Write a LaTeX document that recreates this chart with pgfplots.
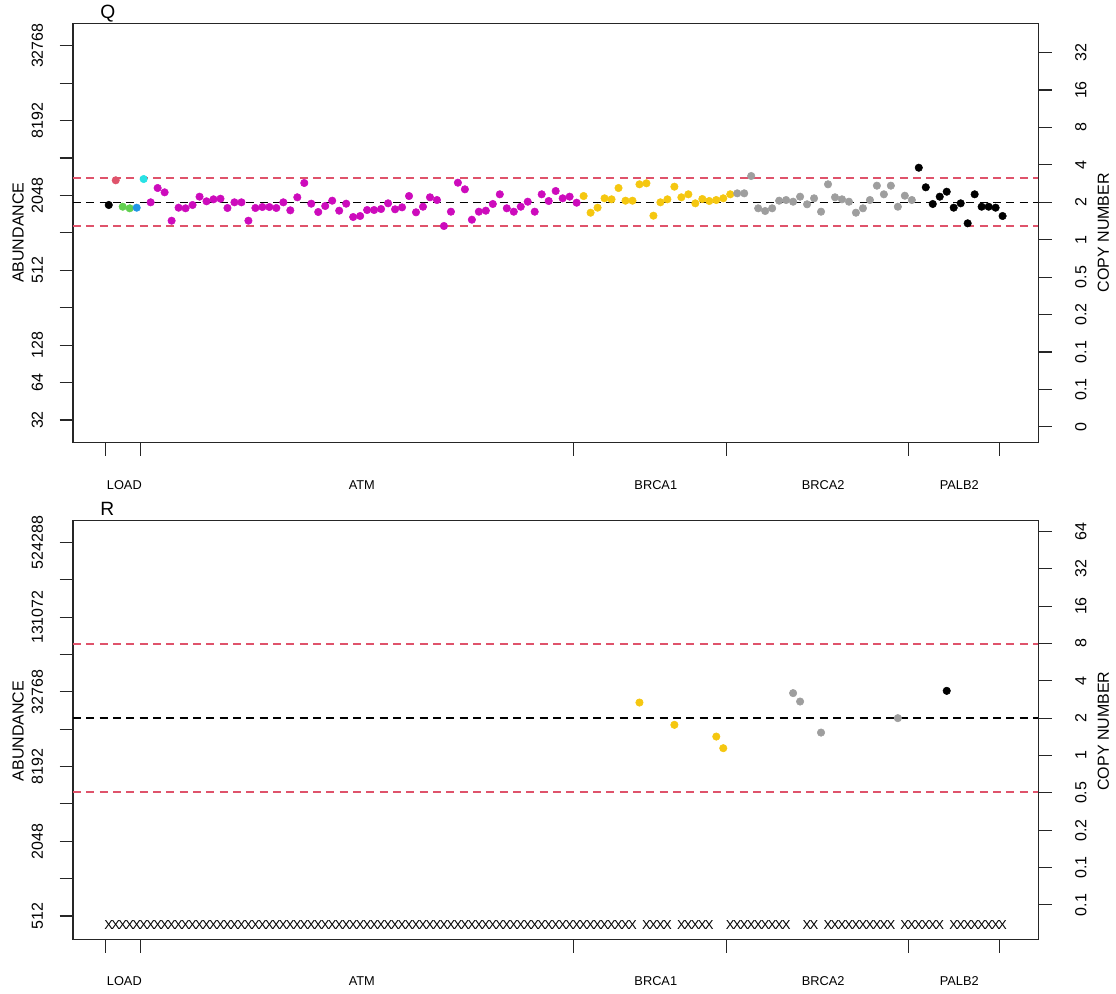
\documentclass[border=0pt]{standalone}
\usepackage{fontspec}
\setmainfont{Liberation Sans}
\usepackage{pgfplots}
\pgfplotsset{compat=1.18}

% R default palette
\definecolor{rblack}{HTML}{000000}
\definecolor{rred}{HTML}{DF536B}
\definecolor{rgreen}{HTML}{61D04F}
\definecolor{rblue}{HTML}{2297E6}
\definecolor{rcyan}{HTML}{28E2E5}
\definecolor{rmag}{HTML}{CD0BBC}
\definecolor{ryellow}{HTML}{F5C710}
\definecolor{rgray}{HTML}{9E9E9E}
\definecolor{frame}{HTML}{262626}

\newcommand{\ticksz}{\fontsize{12}{14}\selectfont}
\newcommand{\labsz}{\fontsize{12}{14}\selectfont}
\newcommand{\grpsz}{\fontsize{9.6}{11}\selectfont}
\newcommand{\mainsz}{\fontsize{14.4}{16}\selectfont}

\tikzset{grp/.style={font=\grpsz, anchor=base, inner sep=0pt, yshift=-35pt}}

\pgfplotsset{
  panel/.style={
    scale only axis, width=724pt, height=314.4pt,
    xmin=-4.12, xmax=134.12,
    axis line style={line width=0.8pt, frame},
    tick style={line width=0.8pt, frame},
    major tick length=10pt, tick align=outside,
    tick label style={font=\ticksz},
    /pgf/number format/assume math mode=true,
    clip=false,
  },
  leftax/.style={panel, xtick pos=bottom, ytick pos=left,
    xtick={0.5,5.5,67.5,89.5,115.5,128.5}, xticklabel=\empty,
    yticklabel style={rotate=90, anchor=south, inner sep=0pt},
    yticklabel shift=12.3pt},
  rightax/.style={panel, axis x line=none, axis y line=right,
    tick align=outside, axis line style={-},
    yticklabel style={rotate=90, anchor=north, inner sep=0pt},
    yticklabel shift=17.5pt},
  pts/.style={only marks, mark=*, mark size=2.8pt, mark options={line width=0.4pt}},
  cutoff/.style={draw=rred, line width=1.3pt, dash pattern=on 6pt off 4pt},
  median/.style={draw=black, line width=1pt, dash pattern=on 6pt off 4pt},
}

\begin{document}
\begin{tikzpicture}
\useasboundingbox (0,0) rectangle (837pt,-744.75pt);

% ---------------- panel Q ----------------
\begin{axis}[leftax, at={(54.75pt,-331.875pt)}, anchor=south west,
  ymin=4.399, ymax=15.598,
  ytick={5,...,15},
  yticklabels={32,64,128,{},512,{},2048,{},8192,{},32768}]
% copy-number reference lines
\addplot[cutoff] coordinates {(-4.12,11.473) (134.12,11.473)};
\addplot[cutoff] coordinates {(-4.12,10.191) (134.12,10.191)};
\addplot[median] coordinates {(-4.12,10.816) (134.12,10.816)};
% probes
\addplot[pts, color=rblack] coordinates {(1,10.744)};
\addplot[pts, color=rred] coordinates {(2,11.404)};
\addplot[pts, color=rgreen] coordinates {(3,10.698) (4,10.656)};
\addplot[pts, color=rblue] coordinates {(5,10.672)};
\addplot[pts, color=rcyan] coordinates {(6,11.438)};
\addplot[pts, color=rmag] coordinates {
 (7,10.816) (8,11.198) (9,11.083) (10,10.324) (11,10.672) (12,10.656)
 (13,10.744) (14,10.966) (15,10.843) (16,10.896) (17,10.912) (18,10.664)
 (19,10.816) (20,10.816) (21,10.324) (22,10.664) (23,10.690) (24,10.690)
 (25,10.664) (26,10.816) (27,10.602) (28,10.950) (29,11.332) (30,10.779)
 (31,10.557) (32,10.717) (33,10.859) (34,10.592) (35,10.779) (36,10.423)
 (37,10.450) (38,10.610) (39,10.610) (40,10.637) (41,10.789) (42,10.629)
 (43,10.682) (44,10.984) (45,10.549) (46,10.698) (47,10.950) (48,10.877)
 (49,10.183) (50,10.565) (51,11.340) (52,11.163) (53,10.351) (54,10.565)
 (55,10.592) (56,10.771) (57,11.030) (58,10.656) (59,10.565) (60,10.698)
 (61,10.832) (62,10.565) (63,11.030) (64,10.851) (65,11.118) (66,10.923)
 (67,10.966) (68,10.805)};
\addplot[pts, color=ryellow] coordinates {
 (69,10.984) (70,10.538) (71,10.672) (72,10.923) (73,10.896) (74,11.198)
 (75,10.859) (76,10.859) (77,11.297) (78,11.324) (79,10.458) (80,10.816)
 (81,10.896) (82,11.233) (83,10.950) (84,11.030) (85,10.789) (86,10.904)
 (87,10.851) (88,10.877) (89,10.923) (90,11.030)};
\addplot[pts, color=rgray] coordinates {
 (91,11.056) (92,11.056) (93,11.519) (94,10.656) (95,10.584) (96,10.656)
 (97,10.859) (98,10.877) (99,10.832) (100,10.966) (101,10.763) (102,10.923)
 (103,10.565) (104,11.297) (105,10.950) (106,10.896) (107,10.832) (108,10.538)
 (109,10.656) (110,10.877) (111,11.260) (112,11.030) (113,11.260) (114,10.698)
 (115,10.992) (116,10.877)};
\addplot[pts, color=rblack] coordinates {
 (117,11.740) (118,11.217) (119,10.771) (120,10.966) (121,11.099) (122,10.672)
 (123,10.789) (124,10.255) (125,11.030) (126,10.698) (127,10.698) (128,10.672)
 (129,10.450)};
\node[grp] at (axis cs:3.23,4.399) {LOAD};
\node[grp] at (axis cs:37.24,4.399) {ATM};
\node[grp] at (axis cs:79.34,4.399) {BRCA1};
\node[grp] at (axis cs:103.3,4.399) {BRCA2};
\node[grp] at (axis cs:122.8,4.399) {PALB2};
\end{axis}
\begin{axis}[rightax, at={(54.75pt,-331.875pt)}, anchor=south west,
  ymin=-5.417, ymax=5.782,
  ytick={-5,...,5},
  yticklabels={0,0.1,0.1,0.2,0.5,1,2,4,8,16,32}]
\end{axis}

% ---------------- panel R ----------------
\begin{axis}[leftax, at={(54.75pt,-704.475pt)}, anchor=south west,
  ymin=8.376, ymax=19.597,
  ytick={9,...,19},
  yticklabels={512,{},2048,{},8192,{},32768,{},131072,{},524288}]
% copy-number reference lines
\addplot[cutoff] coordinates {(-4.12,16.287) (134.12,16.287)};
\addplot[cutoff] coordinates {(-4.12,12.310) (134.12,12.310)};
\addplot[median] coordinates {(-4.12,14.296) (134.12,14.296)};
% probes
\addplot[pts, color=ryellow] coordinates {(77,14.714) (82,14.117) (88,13.803) (89,13.492)};
\addplot[pts, color=rgray] coordinates {(99,14.966) (100,14.741) (103,13.910) (114,14.296)};
\addplot[pts, color=rblack] coordinates {(121,15.027)};
% probes without a measured abundance
\addplot[only marks, mark=text, text mark={\fontsize{9.8}{10}\selectfont X}] coordinates {
 (1,8.759) (2,8.759) (3,8.759) (4,8.759) (5,8.759) (6,8.759) (7,8.759) (8,8.759)
 (9,8.759) (10,8.759) (11,8.759) (12,8.759) (13,8.759) (14,8.759) (15,8.759) (16,8.759)
 (17,8.759) (18,8.759) (19,8.759) (20,8.759) (21,8.759) (22,8.759) (23,8.759) (24,8.759)
 (25,8.759) (26,8.759) (27,8.759) (28,8.759) (29,8.759) (30,8.759) (31,8.759) (32,8.759)
 (33,8.759) (34,8.759) (35,8.759) (36,8.759) (37,8.759) (38,8.759) (39,8.759) (40,8.759)
 (41,8.759) (42,8.759) (43,8.759) (44,8.759) (45,8.759) (46,8.759) (47,8.759) (48,8.759)
 (49,8.759) (50,8.759) (51,8.759) (52,8.759) (53,8.759) (54,8.759) (55,8.759) (56,8.759)
 (57,8.759) (58,8.759) (59,8.759) (60,8.759) (61,8.759) (62,8.759) (63,8.759) (64,8.759)
 (65,8.759) (66,8.759) (67,8.759) (68,8.759) (69,8.759) (70,8.759) (71,8.759) (72,8.759)
 (73,8.759) (74,8.759) (75,8.759) (76,8.759)
 (78,8.759) (79,8.759) (80,8.759) (81,8.759)
 (83,8.759) (84,8.759) (85,8.759) (86,8.759) (87,8.759)
 (90,8.759) (91,8.759) (92,8.759) (93,8.759) (94,8.759) (95,8.759) (96,8.759) (97,8.759) (98,8.759)
 (101,8.759) (102,8.759)
 (104,8.759) (105,8.759) (106,8.759) (107,8.759) (108,8.759) (109,8.759) (110,8.759)
 (111,8.759) (112,8.759) (113,8.759)
 (115,8.759) (116,8.759) (117,8.759) (118,8.759) (119,8.759) (120,8.759)
 (122,8.759) (123,8.759) (124,8.759) (125,8.759) (126,8.759) (127,8.759) (128,8.759) (129,8.759)};
\node[grp] at (axis cs:3.23,8.376) {LOAD};
\node[grp] at (axis cs:37.24,8.376) {ATM};
\node[grp] at (axis cs:79.34,8.376) {BRCA1};
\node[grp] at (axis cs:103.3,8.376) {BRCA2};
\node[grp] at (axis cs:122.8,8.376) {PALB2};
\end{axis}
\begin{axis}[rightax, at={(54.75pt,-704.475pt)}, anchor=south west,
  ymin=-4.920, ymax=6.301,
  ytick={-4,...,6},
  yticklabels={0.1,0.1,0.2,0.5,1,2,4,8,16,32,64}]
\end{axis}

% titles and axis labels
\begin{scope}[x=0.75pt, y=-0.75pt]
\node[font=\mainsz, anchor=base west, inner sep=0pt] at (100,18.7) {Q};
\node[font=\mainsz, anchor=base west, inner sep=0pt] at (100,515.5) {R};
\node[font=\labsz, rotate=90, inner sep=0pt] at (18,232.7) {ABUNDANCE};
\node[font=\labsz, rotate=90, inner sep=0pt] at (18,731) {ABUNDANCE};
\node[font=\labsz, rotate=90, inner sep=0pt] at (1103.3,232.7) {COPY NUMBER};
\node[font=\labsz, rotate=90, inner sep=0pt] at (1103.3,731) {COPY NUMBER};
\end{scope}
\end{tikzpicture}
\end{document}
